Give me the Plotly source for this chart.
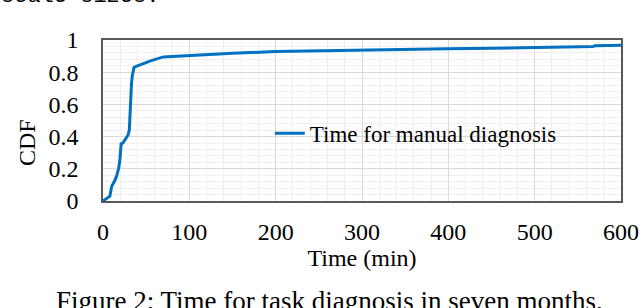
import plotly.graph_objects as go

# CDF of time for manual diagnosis (minutes)
time_min = [0, 3, 8, 9, 10, 12, 14, 16, 18, 19.5, 20, 20.5, 21, 23, 25, 27, 29, 30.5, 31,
            31.2, 31.5, 32, 33, 34, 36, 40, 45, 55, 70, 100, 150, 200, 250, 300, 350, 400,
            450, 500, 550, 568, 570, 600]
cdf = [0, 0.01, 0.03, 0.06, 0.09, 0.11, 0.13, 0.16, 0.2, 0.25, 0.3, 0.35, 0.355, 0.36,
       0.375, 0.39, 0.41, 0.44, 0.5, 0.58, 0.64, 0.69, 0.73, 0.78, 0.83, 0.84, 0.85, 0.87,
       0.895, 0.905, 0.918, 0.928, 0.933, 0.937, 0.94, 0.945, 0.948, 0.952, 0.958, 0.96,
       0.965, 0.967]

x_ticks = [0, 100, 200, 300, 400, 500, 600]
y_ticks = [0, 0.2, 0.4, 0.6, 0.8, 1]
y_tick_labels = ["0", "0.2", "0.4", "0.6", "0.8", "1"]

series_name = "Time for manual diagnosis"
x_title = "Time (min)"
y_title = "CDF"
caption = "Figure 2: Time for task diagnosis in seven months."
top_text = "scale sizes."

FONT = "Liberation Serif, Times New Roman, serif"

fig = go.Figure()
fig.add_trace(go.Scatter(
    x=time_min, y=cdf, mode="lines", name=series_name,
    line=dict(color="#0070C0", width=3),
))

fig.update_layout(
    width=640, height=308,
    margin=dict(l=103, r=19, t=40, b=107, autoexpand=False),
    paper_bgcolor="white", plot_bgcolor="white",
    font=dict(family=FONT, size=23, color="black"),
    showlegend=True,
    legend=dict(x=0.322, y=0.42, xanchor="left", yanchor="middle",
                bgcolor="rgba(0,0,0,0)", font=dict(size=23), itemwidth=30),
)

fig.update_xaxes(
    range=[0, 600], tickvals=x_ticks, ticks="", automargin=False,
    showline=True, mirror=True, linecolor="#595959", linewidth=1.5,
    showgrid=True, gridcolor="#d9d9d9", gridwidth=1,
    minor=dict(dtick=20, showgrid=True, gridcolor="#f0f0f0", gridwidth=1),
    zeroline=False, tickfont=dict(size=24), ticklabelstandoff=8,
    title=dict(text=x_title, font=dict(size=24), standoff=2),
)
fig.update_yaxes(
    range=[0, 1], tickvals=y_ticks, ticktext=y_tick_labels, ticks="", automargin=False,
    showline=True, mirror=True, linecolor="#595959", linewidth=1.5,
    showgrid=True, gridcolor="#d9d9d9", gridwidth=1,
    minor=dict(dtick=0.04, showgrid=True, gridcolor="#f0f0f0", gridwidth=1),
    zeroline=False, tickfont=dict(size=24), ticklabelstandoff=18,
)

# y-axis title (placed slightly below the axis centre, as in the reference)
fig.add_annotation(text=y_title, xref="paper", yref="paper", x=-0.147, y=0.365,
                   xanchor="center", yanchor="middle", textangle=-90, showarrow=False,
                   font=dict(size=24, family=FONT))
fig.add_annotation(text=caption, xref="paper", yref="paper", x=0.438, y=-0.515,
                   xanchor="center", yanchor="top", showarrow=False,
                   font=dict(size=27, family=FONT))
fig.add_annotation(text=top_text, xref="paper", yref="paper", x=-0.2, y=1.18,
                   xanchor="left", yanchor="bottom", showarrow=False,
                   font=dict(size=22, family="Liberation Mono, monospace"))

fig.write_html("out.html", config={"displayModeBar": False},
               post_script="document.body.style.margin='0';document.body.style.overflow='hidden';")
